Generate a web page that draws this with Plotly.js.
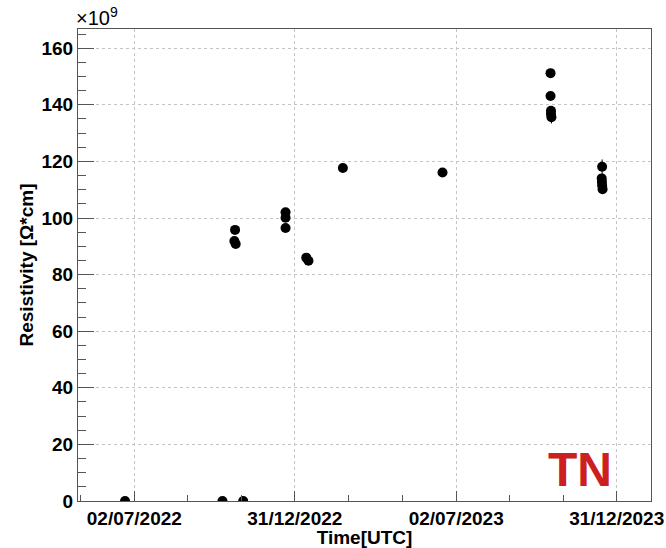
<!DOCTYPE html>
<html>
<head>
<meta charset="utf-8">
<script src="https://cdn.plot.ly/plotly-3.0.1.min.js"></script>
<style>html,body{margin:0;padding:0;background:#fff;}#chart{width:666px;height:548px;}</style>
</head>
<body>
<div id="chart"></div>
<script>
// Measurement times (UTC)
const times = [
  "2022-06-21 12:00", "2022-10-10 00:00", "2022-11-02 12:00",
  "2022-10-24 06:00", "2022-10-23 12:00", "2022-10-25 00:00",
  "2022-12-20 12:00", "2022-12-20 12:00", "2022-12-20 12:00",
  "2023-01-13 00:00", "2023-01-15 12:00",
  "2023-02-23 12:00",
  "2023-06-16 12:00",
  "2023-10-17 00:00", "2023-10-17 00:00", "2023-10-17 12:00", "2023-10-17 12:00", "2023-10-18 00:00",
  "2023-12-14 12:00", "2023-12-14 00:00", "2023-12-14 06:00", "2023-12-14 12:00", "2023-12-15 00:00"
];
// Resistivity in units of 1e9 Ohm*cm
const resistivity = [
  0, 0, 0,
  95.8, 91.9, 90.8,
  102.0, 100.1, 96.5,
  86.0, 84.9,
  117.7,
  116.1,
  151.2, 143.1, 137.9, 136.8, 135.6,
  118.1, 114.0, 112.8, 111.6, 110.2
];
const resistivityErr = [
  0.3, 0.3, 0.3,
  0.6, 0.6, 0.6,
  0.6, 0.6, 0.6,
  0.6, 0.6,
  1.2,
  1.2,
  0.8, 1.2, 1.5, 1.5, 2.2,
  2.6, 1.5, 1.0, 1.0, 1.0
];
const xTickVals = ["2022-07-02", "2022-12-31", "2023-07-02", "2023-12-31"];
const xTickText = ["02/07/2022", "31/12/2022", "02/07/2023", "31/12/2023"];
const xMinorVals = ["2022-05-02", "2022-08-31 12:00", "2022-10-31 12:00", "2023-03-02", "2023-05-02", "2023-08-31 12:00", "2023-10-31 12:00"];
const yTickVals = [0, 20, 40, 60, 80, 100, 120, 140, 160];

const axisColor = "#555555";
const gridColor = "#c4c4c4";
const fontFam = "Liberation Sans, Arial, Helvetica, sans-serif";

const trace = {
  type: "scatter",
  mode: "markers",
  x: times,
  y: resistivity,
  error_y: {type: "data", array: resistivityErr, visible: true, color: "#000", thickness: 1, width: 0},
  marker: {color: "#000", size: 10, symbol: "circle"},
  showlegend: false,
  hoverinfo: "x+y"
};

const layout = {
  width: 666,
  height: 548,
  margin: {l: 78, r: 15, t: 29, b: 47, pad: 0},
  paper_bgcolor: "#fff",
  plot_bgcolor: "#fff",
  font: {family: fontFam, size: 19, color: "#000", weight: "bold"},
  xaxis: {
    type: "date",
    range: ["2022-04-29 04:00", "2024-02-07 22:00"],
    tickmode: "array",
    tickvals: xTickVals,
    ticktext: xTickText,
    ticks: "inside",
    ticklen: 10,
    tickwidth: 1,
    tickcolor: axisColor,
    tickfont: {family: fontFam, size: 19, color: "#000", weight: "bold"},
    showline: true,
    linecolor: axisColor,
    linewidth: 1,
    mirror: true,
    showgrid: true,
    gridcolor: gridColor,
    griddash: "dot",
    gridwidth: 1,
    zeroline: false,
    minor: {tickmode: "array", tickvals: xMinorVals, ticks: "inside", ticklen: 6, tickcolor: axisColor, showgrid: false},
    title: {text: "Time[UTC]", font: {family: fontFam, size: 19, color: "#000", weight: "bold"}, standoff: 0}
  },
  yaxis: {
    range: [0, 166.8],
    tickmode: "array",
    tickvals: yTickVals,
    ticks: "inside",
    ticklen: 16,
    tickwidth: 1,
    tickcolor: axisColor,
    tickfont: {family: fontFam, size: 19, color: "#000", weight: "bold"},
    showline: true,
    linecolor: axisColor,
    linewidth: 1,
    mirror: true,
    showgrid: true,
    gridcolor: gridColor,
    griddash: "dot",
    gridwidth: 1,
    zeroline: false,
    minor: {dtick: 5, tick0: 0, ticks: "inside", ticklen: 8, tickcolor: axisColor, showgrid: false},
    title: {text: "Resistivity [Ω*cm]", font: {family: fontFam, size: 19, color: "#000", weight: "bold"}, standoff: 2}
  },
  annotations: [
    {
      xref: "paper", yref: "paper", x: 0, y: 1, xanchor: "left", yanchor: "bottom",
      xshift: -4, yshift: -2,
      text: "×10<sup>9</sup>", showarrow: false,
      font: {family: fontFam, size: 20, color: "#000", weight: "normal"}
    },
    {
      xref: "paper", yref: "paper", x: 0.876, y: 0.066, xanchor: "center", yanchor: "middle",
      text: "TN", showarrow: false,
      font: {family: fontFam, size: 48, color: "#cc2020", weight: "bold"}
    }
  ]
};

Plotly.newPlot("chart", [trace], layout, {displayModeBar: false, staticPlot: true});
</script>
</body>
</html>
